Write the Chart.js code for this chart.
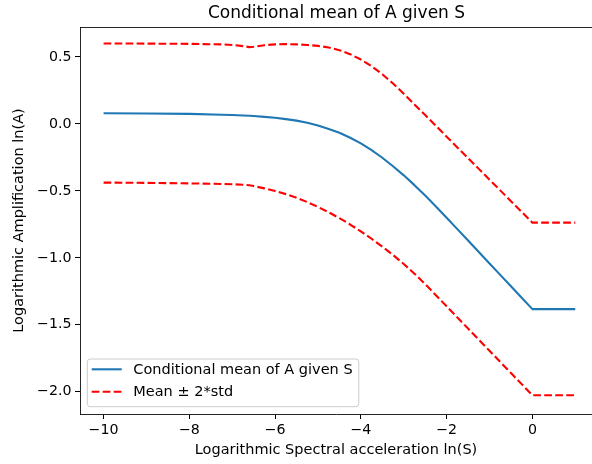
<!DOCTYPE html>
<html>
<head>
<meta charset="utf-8">
<script src="https://cdn.jsdelivr.net/npm/chart.js@4.4.1/dist/chart.umd.min.js"></script>
<style>
  html, body { margin: 0; padding: 0; background: #fff; overflow: hidden; }
  #wrap { width: 592px; height: 464px; position: relative; }
</style>
</head>
<body>
<div id="wrap"><canvas id="chart" width="592" height="464"></canvas></div>
<script>
// ln(S) grid and the conditional statistics of ln(A)
const lnS = [-10, -9, -8, -7.25, -7, -6.75, -6.6, -6.5, -6.25, -6, -5.75, -5.5, -5.25, -5, -4.75, -4.5, -4.25, -4,
             -3.75, -3.5, -3.25, -3, -2.75, -2.5, -2.25, -2, -1.75, -1.5, -1.25, -1, -0.75, -0.5, -0.25, 0, 1];
const meanA = [0.080, 0.078, 0.075, 0.069, 0.067, 0.0635, 0.061, 0.059, 0.053, 0.046, 0.036, 0.025, 0.0085, -0.012, -0.0375, -0.066, -0.103, -0.145,
               -0.196, -0.2525, -0.316, -0.3837, -0.457, -0.535, -0.616, -0.700, -0.7855, -0.871, -0.9565, -1.0415, -1.127, -1.212, -1.2975, -1.383, -1.383];
const upperA = [0.601, 0.600, 0.598, 0.594, 0.590, 0.581, 0.574, 0.577, 0.588, 0.594, 0.596, 0.594, 0.590, 0.583, 0.571, 0.551, 0.521, 0.481,
                0.431, 0.371, 0.302, 0.226, 0.146, 0.066, -0.0145, -0.095, -0.175, -0.255, -0.3355, -0.416, -0.496, -0.5765, -0.657, -0.737, -0.737];
const lowerA = [-0.438, -0.440, -0.444, -0.448, -0.450, -0.454, -0.458, -0.464, -0.481, -0.500, -0.524, -0.551, -0.5835, -0.6198, -0.6598, -0.7035, -0.751, -0.8023,
                -0.8573, -0.916, -0.9785, -1.046, -1.1185, -1.196, -1.279, -1.362, -1.445, -1.528, -1.611, -1.694, -1.777, -1.860, -1.943, -2.026, -2.026];

const xTicks = [-10, -8, -6, -4, -2, 0];
const yTicks = [-2.0, -1.5, -1.0, -0.5, 0.0, 0.5];

const TITLE   = 'Conditional mean of A given S';
const X_LABEL = 'Logarithmic Spectral acceleration ln(S)';
const Y_LABEL = 'Logarithmic Amplification ln(A)';
const MEAN_LABEL = 'Conditional mean of A given S';
const BAND_LABEL = 'Mean \u00b1 2*std';

const FONT = '"DejaVu Sans", "Liberation Sans", sans-serif';
const TICK_SIZE = 14.2;
const LABEL_SIZE = 14.5;
const BLUE = '#1f77b4';
const RED = '#ff0000';
const SPINE = 'rgba(0,0,0,0.85)';

const minus = s => String(s).replace('-', '\u2212');
const pts = ys => lnS.map((x, i) => ({ x, y: ys[i] }));

// Axes title above the plot
const titlePlugin = {
  id: 'plotTitle',
  afterDraw(chart) {
    const { ctx } = chart;
    ctx.save();
    ctx.font = '17px ' + FONT;
    ctx.fillStyle = '#000';
    ctx.textAlign = 'center';
    ctx.textBaseline = 'alphabetic';
    ctx.fillText(TITLE, 336.5, 18.3);
    ctx.restore();
  }
};

// Top spine of the axes frame
const framePlugin = {
  id: 'frame',
  afterDraw(chart) {
    const { ctx, chartArea } = chart;
    ctx.save();
    ctx.strokeStyle = SPINE;
    ctx.lineWidth = 1;
    ctx.beginPath();
    ctx.moveTo(chartArea.left, chartArea.top + 0.5);
    ctx.lineTo(chartArea.right, chartArea.top + 0.5);
    ctx.stroke();
    ctx.restore();
  }
};

// Legend box in the lower-left corner of the axes
const legendPlugin = {
  id: 'cornerLegend',
  afterDatasetsDraw(chart) {
    const { ctx, chartArea } = chart;
    const items = chart.data.datasets.filter(d => d.inLegend);
    ctx.save();
    ctx.font = LABEL_SIZE + 'px ' + FONT;
    const textW = Math.max(...items.map(d => ctx.measureText(d.label).width));
    const left = chartArea.left + 7.3;
    const bottom = chartArea.bottom - 7.3;
    const h = 47.7;
    const top = bottom - h;
    const w = 46 + textW + 6.2;
    const r = 3;
    ctx.beginPath();
    ctx.moveTo(left + r, top);
    ctx.arcTo(left + w, top, left + w, top + h, r);
    ctx.arcTo(left + w, top + h, left, top + h, r);
    ctx.arcTo(left, top + h, left, top, r);
    ctx.arcTo(left, top, left + w, top, r);
    ctx.closePath();
    ctx.fillStyle = 'rgba(255,255,255,0.8)';
    ctx.fill();
    ctx.strokeStyle = '#cccccc';
    ctx.lineWidth = 1;
    ctx.stroke();
    items.forEach((d, i) => {
      const y = top + 10.3 + i * 22.4;
      ctx.beginPath();
      ctx.strokeStyle = d.borderColor;
      ctx.lineWidth = d.borderWidth;
      ctx.setLineDash(d.borderDash || []);
      ctx.moveTo(left + 4.4, y);
      ctx.lineTo(left + 34.4, y);
      ctx.stroke();
      ctx.setLineDash([]);
      ctx.fillStyle = '#000';
      ctx.textAlign = 'left';
      ctx.textBaseline = 'middle';
      ctx.fillText(d.label, left + 46, y + 0.5);
    });
    ctx.restore();
  }
};

new Chart(document.getElementById('chart'), {
  type: 'line',
  data: {
    datasets: [
      { label: MEAN_LABEL, data: pts(meanA), borderColor: BLUE, borderWidth: 2.1, inLegend: true },
      { label: BAND_LABEL, data: pts(upperA), borderColor: RED, borderWidth: 2.1, borderDash: [7.7, 3.3], inLegend: true },
      { label: BAND_LABEL, data: pts(lowerA), borderColor: RED, borderWidth: 2.1, borderDash: [7.7, 3.3], inLegend: false }
    ]
  },
  options: {
    responsive: false,
    animation: false,
    events: [],
    layout: { padding: { top: 27, left: 0, right: 0, bottom: 0 } },
    elements: { point: { radius: 0 }, line: { tension: 0, fill: false, borderJoinStyle: 'round' } },
    plugins: { legend: { display: false }, tooltip: { enabled: false }, title: { display: false } },
    scales: {
      x: {
        type: 'linear',
        min: -10.55,
        max: 1.39,
        afterFit: s => { s.height = 50; },
        afterBuildTicks: s => { s.ticks = xTicks.map(v => ({ value: v })); },
        ticks: {
          callback: v => minus(v),
          font: { family: FONT, size: TICK_SIZE },
          color: '#000',
          padding: 3,
          maxRotation: 0,
          autoSkip: false
        },
        grid: { drawOnChartArea: false, drawTicks: true, tickLength: 5, tickColor: '#000', tickWidth: 1 },
        border: { display: true, color: SPINE, width: 1 },
        title: { display: true, text: X_LABEL, font: { family: FONT, size: LABEL_SIZE }, color: '#000', padding: { top: 0, bottom: 5.2 } }
      },
      y: {
        type: 'linear',
        min: -2.166,
        max: 0.724,
        afterFit: s => { s.width = 80; },
        afterBuildTicks: s => { s.ticks = yTicks.map(v => ({ value: v })); },
        ticks: {
          callback: v => minus(v.toFixed(1)),
          font: { family: FONT, size: TICK_SIZE },
          color: '#000',
          padding: 3.5,
          autoSkip: false
        },
        grid: { drawOnChartArea: false, drawTicks: true, tickLength: 5, tickColor: '#000', tickWidth: 1 },
        border: { display: true, color: SPINE, width: 1 },
        title: { display: true, text: Y_LABEL, font: { family: FONT, size: LABEL_SIZE }, color: '#000', padding: { top: 10.5, bottom: 0 } }
      }
    }
  },
  plugins: [legendPlugin, framePlugin, titlePlugin]
});
</script>
</body>
</html>
